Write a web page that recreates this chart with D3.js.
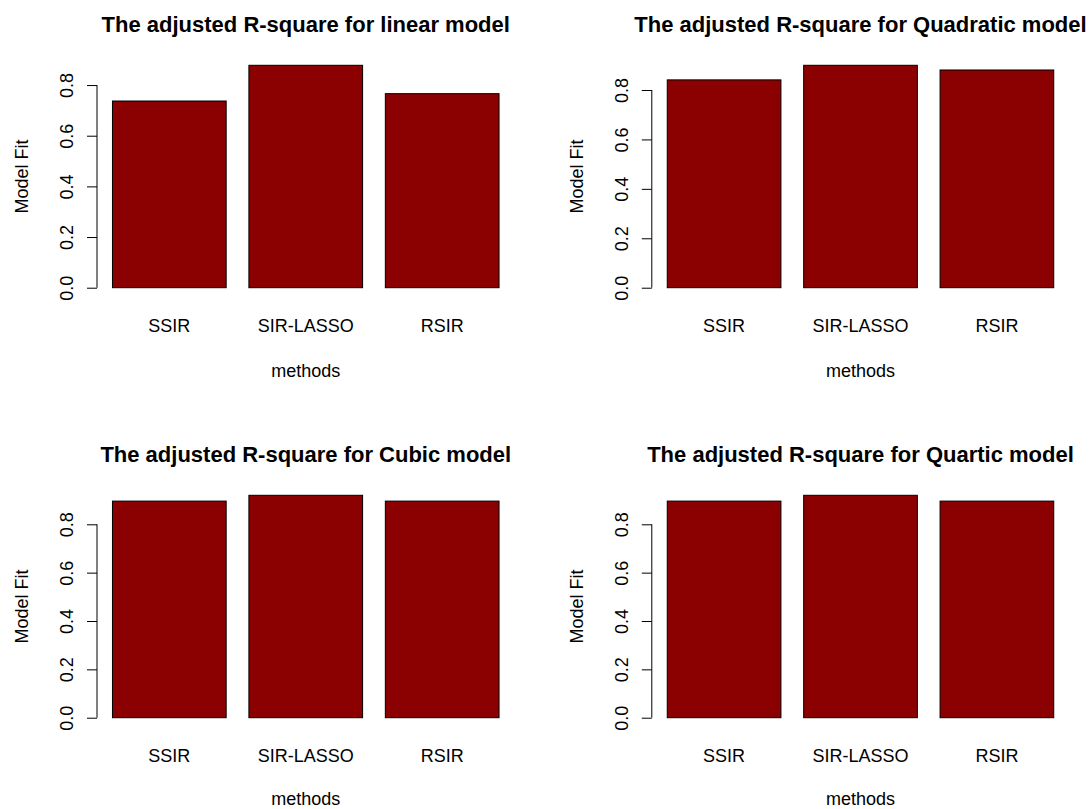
<!DOCTYPE html>
<html>
<head>
<meta charset="utf-8">
<script src="https://cdn.jsdelivr.net/npm/d3@7"></script>
<style>
body { margin: 0; background: #fff; }
text { font-family: "Liberation Sans", Arial, sans-serif; fill: #000; }
</style>
</head>
<body>
<div id="chart-area"></div>
<script>
let width = 1091,
height = 809;

// data
let methods = ["SSIR", "SIR-LASSO", "RSIR"];
let titles = [
	"The adjusted R-square for linear model",
	"The adjusted R-square for Quadratic model",
	"The adjusted R-square for Cubic model",
	"The adjusted R-square for Quartic model"
];
let linearFit = [0.737, 0.878, 0.766];
let quadraticFit = [0.841, 0.900, 0.881];
let cubicFit = [0.896, 0.920, 0.896];
let quarticFit = [0.896, 0.920, 0.896];
let yTicks = [0, 0.2, 0.4, 0.6, 0.8];

let fits = [linearFit, quadraticFit, cubicFit, quarticFit];

// plot regions (R style par(mfrow=c(2,2)))
let cols = [[97, 514.5], [651.8, 1069.2]];
let rows = [[56.4, 296.6], [486.4, 726.6]];

let svg = d3.select("#chart-area").append("svg")
	.attr("width", width)
	.attr("height", height);

fits.forEach(function(vals, i) {
	let xr = cols[i % 2], yr = rows[Math.floor(i / 2)];
	let left = xr[0], right = xr[1], top = yr[0], bottom = yr[1];
	let cx = (left + right) / 2;

	let g = svg.append("g");

	let x = d3.scaleBand()
		.domain(methods)
		.range([left, right])
		.paddingInner(0.2 / 1.2)
		.paddingOuter(0.136 / 1.2);

	let maxV = d3.max(vals);
	let y = d3.scaleLinear()
		.domain([-0.04 * maxV, 1.04 * maxV])
		.range([bottom, top]);

	g.selectAll("rect")
		.data(vals)
		.enter().append("rect")
		.attr("x", (d, j) => x(methods[j]))
		.attr("width", x.bandwidth())
		.attr("y", d => y(d))
		.attr("height", d => y(0) - y(d))
		.attr("fill", "#8b0000")
		.attr("stroke", "#000")
		.attr("stroke-width", 1);

	// y axis
	let yAxis = g.append("g")
		.attr("transform", "translate(" + left + ",0)")
		.call(d3.axisLeft(y).tickValues(yTicks).tickSize(10).tickSizeOuter(0).tickFormat(d3.format(".1f")));
	yAxis.select(".domain").remove();
	yAxis.append("line")
		.attr("x1", 0).attr("x2", 0)
		.attr("y1", y(0)).attr("y2", y(0.8))
		.attr("stroke", "#000");
	yAxis.selectAll(".tick line").attr("stroke", "#000");
	yAxis.selectAll(".tick text")
		.attr("x", null).attr("dy", null)
		.attr("transform", "translate(-24.3,0) rotate(-90)")
		.attr("text-anchor", "middle")
		.style("font-size", "18px")
		.style("font-family", "'Liberation Sans', Arial, sans-serif")
		.attr("fill", "#000");

	// category labels
	g.selectAll(".cat")
		.data(methods)
		.enter().append("text")
		.attr("class", "cat")
		.attr("x", d => x(d) + x.bandwidth() / 2)
		.attr("y", bottom + 35)
		.attr("text-anchor", "middle")
		.style("font-size", "18px")
		.text(d => d);

	g.append("text")
		.attr("x", cx)
		.attr("y", Math.min(bottom + 80, height - 4))
		.attr("text-anchor", "middle")
		.style("font-size", "18px")
		.text("methods");

	g.append("text")
		.attr("transform", "translate(" + (left - 69) + "," + ((top + bottom) / 2) + ") rotate(-90)")
		.attr("text-anchor", "middle")
		.style("font-size", "18px")
		.text("Model Fit");

	g.append("text")
		.attr("x", cx)
		.attr("y", top - 24.5)
		.attr("text-anchor", "middle")
		.style("font-size", "22px")
		.style("font-weight", "bold")
		.text(titles[i]);
});
</script>
</body>
</html>
